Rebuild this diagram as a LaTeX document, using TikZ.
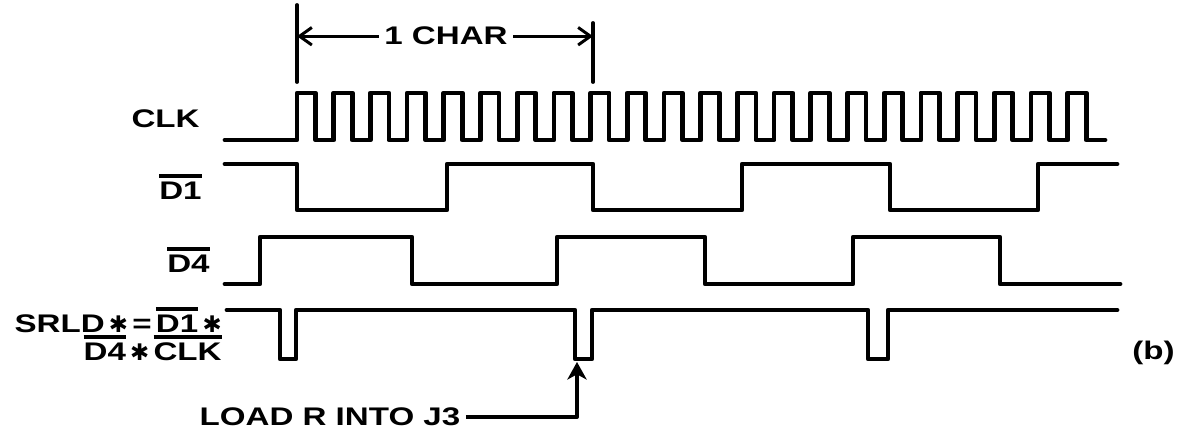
\documentclass[tikz,border=0pt]{standalone}
\usepackage{fontspec}
\setmainfont{Liberation Sans}[FakeStretch=1.3]
\newfontfamily\symfont{DejaVu Sans}
\usetikzlibrary{arrows.meta}

% bar over a signal name
\newcommand{\ovl}[1]{\leavevmode\setbox0=\hbox{#1}\rlap{\raisebox{\dimexpr\ht0+2.5pt\relax}{\rule{\wd0}{2.2pt}}}\box0}
% heavy asterisk (AND)
\newcommand{\astk}{{\symfont\fontsize{13}{15}\selectfont ✱}}

\tikzset{
    sig/.style={line width=2.7pt, line join=round, line cap=round},
    tick/.style={line width=2.2pt, line cap=round},
    dimarr/.style={line width=1.7pt, -{Straight Barb[length=7pt,width=10pt,line width=1.7pt]}},
    loadarr/.style={line width=2pt, line join=round, -{Stealth[length=10pt,width=11pt,inset=3pt]}},
    lbl/.style={font=\fontsize{14.5}{17}\selectfont\bfseries, inner sep=0pt}
}

\begin{document}
\begin{tikzpicture}[x=0.02cm, y=-0.02cm]
    \fill[white] (0,0) rectangle (1183,438);

    % 1 CHAR dimension
    \coordinate (tickl) at (297,82);
    \coordinate (tickr) at (593,82);
    \draw[tick] (tickl) -- (297,5);
    \draw[tick] (tickr) -- (593,23);
    \node[lbl, inner xsep=3pt, anchor=base] (char) at (446,45) {1 CHAR};
    \draw[dimarr] (char.west) -- (char.west -| tickl);
    \draw[dimarr] (char.east) -- (char.east -| tickr);

    % CLK
    \node[lbl, anchor=base east] (clk) at (200,128) {CLK};
    \draw[sig] (225,140) foreach \k in {0,...,21} {
        -| ({297+36.7*\k},93) -| ({315.5+36.7*\k},140) } -- (1105,140);

    % D1 bar
    \node[lbl, anchor=base east] (d1) at (202,200) {\ovl{D1}};
    \draw[sig] (225,164) -| (297,210) -| (447,164) -| (593,210) -| (742,164)
        -| (890,210) -| (1038,164) -- (1117,164);

    % D4 bar
    \node[lbl, anchor=base east] (d4) at (210,273) {\ovl{D4}};
    \draw[sig] (225,284) -| (260,237) -| (412,284) -| (557,237) -| (705,284)
        -| (853,237) -| (1000,284) -- (1120,284);

    % SRLD
    \node[lbl, anchor=base east] (srlda) at (222,333) {SRLD\,\astk\,=\,\ovl{D1}\,\astk};
    \node[lbl, anchor=base east] (srldb) at (222,361) {\ovl{D4}\,\astk\,\ovl{CLK}};
    \draw[sig] (227,310) -| (280,359) -| (296,310) -| (575,359) -| (592,310)
        -| (868,359) -| (888,310) -- (1117,310);
    \coordinate (ldtip) at (577,362);

    \node[lbl, anchor=base west] (b) at (1132,360) {(b)};

    % load marker
    \node[lbl, inner xsep=3pt, anchor=base west] (load) at (194,426) {LOAD R INTO J3};
    \draw[loadarr] (load.east) -| (ldtip);
\end{tikzpicture}
\end{document}
